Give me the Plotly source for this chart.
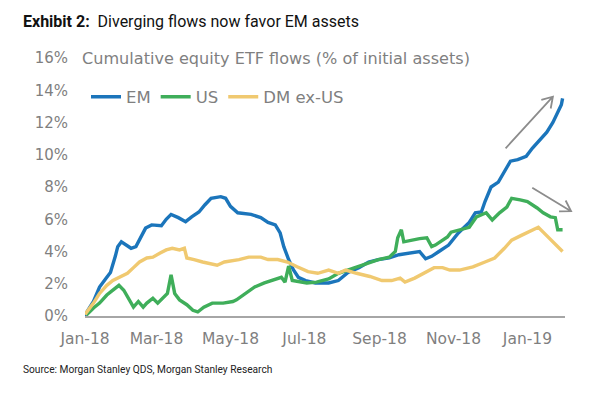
import math
import datetime as _dt
import plotly.graph_objects as go

# ---------------- data ----------------
em_dates = ["2018-01-01", "2018-01-03", "2018-01-08", "2018-01-13", "2018-01-19", "2018-01-22",
            "2018-01-26", "2018-01-28", "2018-01-31", "2018-02-04", "2018-02-08", "2018-02-12",
            "2018-02-16", "2018-02-20", "2018-02-25", "2018-03-05", "2018-03-09", "2018-03-13",
            "2018-03-19", "2018-03-25", "2018-03-30", "2018-04-05", "2018-04-10", "2018-04-15",
            "2018-04-23", "2018-04-27", "2018-05-01", "2018-05-07", "2018-05-18", "2018-05-26",
            "2018-06-01", "2018-06-07", "2018-06-11", "2018-06-14", "2018-06-18", "2018-06-22",
            "2018-06-26", "2018-07-02", "2018-07-10", "2018-07-21", "2018-07-29", "2018-08-06",
            "2018-08-15", "2018-08-23", "2018-08-31", "2018-09-09", "2018-09-17", "2018-09-25",
            "2018-10-04", "2018-10-09", "2018-10-14", "2018-10-20", "2018-10-28", "2018-11-05",
            "2018-11-14", "2018-11-19", "2018-11-24", "2018-11-27", "2018-12-02", "2018-12-08",
            "2018-12-14", "2018-12-18", "2018-12-24", "2018-12-31", "2019-01-05", "2019-01-11",
            "2019-01-17", "2019-01-22", "2019-01-26", "2019-01-29", "2019-01-30"]
em_values = [0.0, 0.3, 0.9, 1.8, 2.4, 2.7,
             3.7, 4.3, 4.6, 4.4, 4.2, 4.3,
             4.9, 5.45, 5.65, 5.6, 6.0, 6.3,
             6.1, 5.85, 6.15, 6.45, 6.9, 7.3,
             7.4, 7.3, 6.8, 6.4, 6.3, 6.1,
             5.8, 5.65, 5.15, 4.3, 3.5, 2.85,
             2.4, 2.2, 2.05, 2.05, 2.2, 2.7,
             3.0, 3.35, 3.5, 3.6, 3.8, 3.9,
             4.0, 3.55, 3.7, 4.0, 4.4, 5.15,
             5.8, 6.4, 6.45, 7.1, 8.0, 8.3,
             9.05, 9.6, 9.7, 9.9, 10.4, 10.9,
             11.4, 12.0, 12.6, 13.1, 13.5]

us_dates = ["2018-01-02", "2018-01-08", "2018-01-13", "2018-01-19", "2018-01-24", "2018-01-29",
            "2018-02-02", "2018-02-06", "2018-02-10", "2018-02-14", "2018-02-18", "2018-02-21",
            "2018-02-26", "2018-03-02", "2018-03-06", "2018-03-10", "2018-03-13", "2018-03-16",
            "2018-03-20", "2018-03-26", "2018-03-31", "2018-04-04", "2018-04-09", "2018-04-16",
            "2018-04-25", "2018-05-03", "2018-05-06", "2018-05-13", "2018-05-21", "2018-05-29",
            "2018-06-05", "2018-06-12", "2018-06-15", "2018-06-18", "2018-06-21", "2018-06-27",
            "2018-07-03", "2018-07-11", "2018-07-21", "2018-07-29", "2018-08-06", "2018-08-15",
            "2018-08-23", "2018-08-31", "2018-09-09", "2018-09-14", "2018-09-16", "2018-09-19",
            "2018-09-21", "2018-09-27", "2018-10-04", "2018-10-10", "2018-10-14", "2018-10-17",
            "2018-10-21", "2018-10-27", "2018-10-30", "2018-11-06", "2018-11-14", "2018-11-20",
            "2018-11-28", "2018-12-03", "2018-12-09", "2018-12-15", "2018-12-19", "2018-12-26",
            "2019-01-01", "2019-01-09", "2019-01-14", "2019-01-20", "2019-01-24", "2019-01-26",
            "2019-01-30"]
us_values = [0.05, 0.5, 0.8, 1.3, 1.6, 1.9,
             1.6, 1.1, 0.55, 0.9, 0.55, 0.8,
             1.1, 0.8, 1.1, 1.4, 2.55, 1.4,
             1.0, 0.7, 0.35, 0.25, 0.55, 0.8,
             0.8, 0.9, 1.0, 1.35, 1.8, 2.05,
             2.2, 2.4, 2.1, 3.1, 2.2, 2.1,
             2.05, 2.1, 2.3, 2.65, 2.85, 3.05,
             3.3, 3.5, 3.65, 4.0, 4.85, 5.35,
             4.6, 4.7, 4.8, 4.85, 4.3, 4.4,
             4.6, 4.9, 5.2, 5.35, 5.5, 6.15,
             6.4, 5.95, 6.4, 6.75, 7.3, 7.2,
             7.1, 6.7, 6.4, 6.15, 6.1, 5.35,
             5.35]

dm_dates = ["2018-01-01", "2018-01-08", "2018-01-13", "2018-01-19", "2018-01-24", "2018-01-30",
            "2018-02-05", "2018-02-10", "2018-02-15", "2018-02-21", "2018-02-26", "2018-03-04",
            "2018-03-09", "2018-03-14", "2018-03-20", "2018-03-24", "2018-03-26", "2018-04-01",
            "2018-04-08", "2018-04-20", "2018-04-26", "2018-05-08", "2018-05-16", "2018-05-26",
            "2018-06-01", "2018-06-09", "2018-06-17", "2018-06-25", "2018-07-04", "2018-07-12",
            "2018-07-21", "2018-07-29", "2018-08-04", "2018-08-13", "2018-08-24", "2018-09-03",
            "2018-09-11", "2018-09-18", "2018-09-22", "2018-09-30", "2018-10-10", "2018-10-16",
            "2018-10-23", "2018-10-29", "2018-11-06", "2018-11-17", "2018-11-27", "2018-12-05",
            "2018-12-13", "2018-12-19", "2018-12-27", "2019-01-06", "2019-01-10", "2019-01-14",
            "2019-01-21", "2019-01-25", "2019-01-30"]
dm_values = [0.1, 0.8, 1.4, 1.9, 2.2, 2.4,
             2.65, 3.0, 3.35, 3.6, 3.65, 3.9,
             4.1, 4.2, 4.1, 4.2, 3.6, 3.5,
             3.35, 3.15, 3.35, 3.5, 3.65, 3.65,
             3.5, 3.5, 3.35, 3.05, 2.75, 2.65,
             2.85, 2.65, 2.85, 2.65, 2.45, 2.2,
             2.2, 2.35, 2.1, 2.35, 2.75, 3.0,
             3.0, 2.85, 2.85, 3.05, 3.35, 3.6,
             4.2, 4.7, 5.0, 5.4, 5.5, 5.2,
             4.7, 4.4, 4.0]

series_names = ["EM", "US", "DM ex-US"]
series_colors = ["#1B75BB", "#3FAE5A", "#F0C970"]

x_tick_vals = ["2018-01-01", "2018-03-01", "2018-05-01", "2018-07-01",
               "2018-09-01", "2018-11-01", "2019-01-01"]
x_tick_text = ["Jan-18", "Mar-18", "May-18", "Jul-18", "Sep-18", "Nov-18", "Jan-19"]
y_tick_vals = [0, 2, 4, 6, 8, 10, 12, 14, 16]
y_tick_text = [f"{v}%" for v in y_tick_vals]

# arrows: (start date, start value) -> (tip date, tip value)
arrow_up = (("2018-12-14", 10.4), ("2019-01-22", 13.6))
arrow_down = (("2019-01-05", 7.95), ("2019-02-06", 6.5))

# ---------------- figure ----------------
OFF = 8                     # page body margin of the html page
W, H = 602 - OFF, 394 - OFF
L = 85 - OFF
T = 58 - OFF
R = W - (565 - OFF)
B = H - (316 - OFF)
PW = W - L - R
PH = H - T - B
X_START = _dt.date(2018, 1, 1)
X_DAYS = 396.0              # 2018-01-01 .. 2019-02-01
Y_SPAN = 16.0


def px_x(px):
    return (px - OFF - L) / PW


def px_y(py):
    return 1 - (py - OFF - T) / PH


def data_to_paper(d, v):
    return ((_dt.date.fromisoformat(d) - X_START).days / X_DAYS, v / Y_SPAN)


fig = go.Figure()
for d, v, n, c in zip([em_dates, us_dates, dm_dates], [em_values, us_values, dm_values],
                      series_names, series_colors):
    fig.add_trace(go.Scatter(x=d, y=v, name=n, mode="lines",
                             line=dict(color=c, width=3.4)))

grey = "#8C8C8C"
for (x0, y0), (x1, y1) in [arrow_up, arrow_down]:
    sx, sy = data_to_paper(x0, y0)
    tx, ty = data_to_paper(x1, y1)
    # direction in screen pixels (y up)
    dxp, dyp = (tx - sx) * PW, (ty - sy) * PH
    ln = math.hypot(dxp, dyp)
    bx, by = -dxp / ln, -dyp / ln
    pts = []
    for ang in (math.radians(32), math.radians(-32)):
        hx = bx * math.cos(ang) - by * math.sin(ang)
        hy = bx * math.sin(ang) + by * math.cos(ang)
        pts.append((tx + hx * 12 / PW, ty + hy * 12 / PH))
    path = (f"M {sx} {sy} L {tx} {ty} "
            f"M {pts[0][0]} {pts[0][1]} L {tx} {ty} L {pts[1][0]} {pts[1][1]}")
    fig.add_shape(type="path", path=path, xref="paper", yref="paper",
                  line=dict(color=grey, width=1.8))

fig.add_annotation(x=px_x(21), y=px_y(22), xref="paper", yref="paper",
                   xanchor="left", yanchor="middle", showarrow=False,
                   text="<b>Exhibit 2:</b>  Diverging flows now favor EM assets",
                   font=dict(family="Roboto", size=16, color="#111111"))
fig.add_annotation(x=px_x(80), y=px_y(58), xref="paper", yref="paper",
                   xanchor="left", yanchor="middle", showarrow=False,
                   text="Cumulative equity ETF flows (% of initial assets)",
                   font=dict(family="DejaVu Sans", size=16.1, color="#7F7F7F"))
fig.add_annotation(x=px_x(21), y=px_y(369), xref="paper", yref="paper",
                   xanchor="left", yanchor="middle", showarrow=False,
                   text="Source: Morgan Stanley QDS, Morgan Stanley Research",
                   font=dict(family="Roboto", size=10.2, color="#222222"))

fig.update_layout(
    width=W, height=H,
    margin=dict(l=L, r=R, t=T, b=B),
    paper_bgcolor="white", plot_bgcolor="white",
    font=dict(family="DejaVu Sans", size=15, color="#7F7F7F"),
    showlegend=True,
    legend=dict(orientation="h", x=px_x(86), y=px_y(97), xanchor="left", yanchor="middle",
                bgcolor="rgba(0,0,0,0)", font=dict(size=16.5, color="#7F7F7F"),
                itemwidth=30, tracegroupgap=0),
    xaxis=dict(type="date", range=["2018-01-01", "2019-02-01"],
               tickmode="array", tickvals=x_tick_vals, ticktext=x_tick_text,
               showgrid=False, zeroline=False, showline=True, linecolor="#A6A6A6",
               linewidth=1.5, ticks="", ticklabelstandoff=8,
               tickfont=dict(size=15.5, color="#7F7F7F")),
    yaxis=dict(range=[0, 16], tickmode="array", tickvals=y_tick_vals, ticktext=y_tick_text,
               showgrid=False, zeroline=False, showline=False, ticks="",
               ticklabelstandoff=16, tickfont=dict(size=15, color="#7F7F7F")),
)

fig.write_html("out.html")
